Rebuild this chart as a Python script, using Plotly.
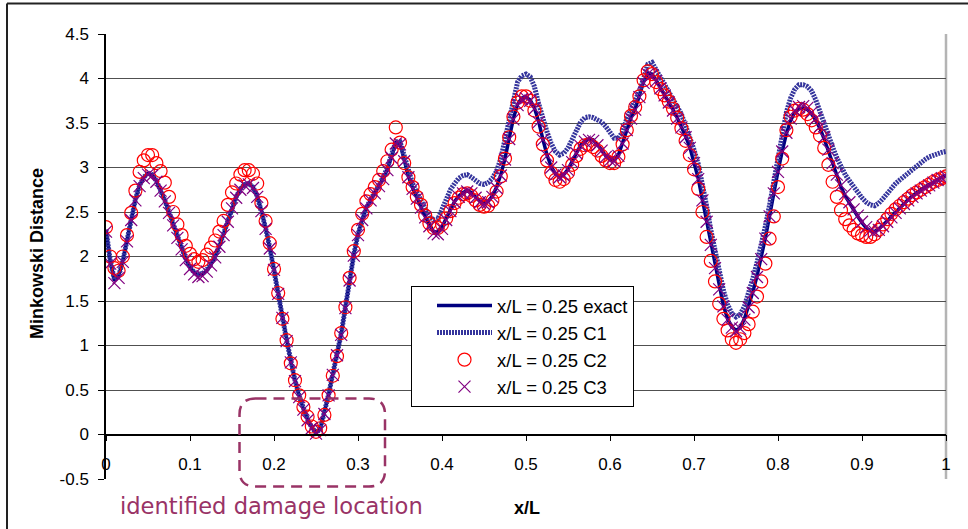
import plotly.graph_objects as go

# ---------------- data ----------------
x_over_L = [
    0.000, 0.005, 0.010, 0.015, 0.020, 0.025, 0.030, 0.035, 0.040, 0.045,
    0.050, 0.055, 0.060, 0.065, 0.070, 0.075, 0.080, 0.085, 0.090, 0.095,
    0.100, 0.105, 0.110, 0.115, 0.120, 0.125, 0.130, 0.135, 0.140, 0.145,
    0.150, 0.155, 0.160, 0.165, 0.170, 0.175, 0.180, 0.185, 0.190, 0.195,
    0.200, 0.205, 0.210, 0.215, 0.220, 0.225, 0.230, 0.235, 0.240, 0.245,
    0.250, 0.255, 0.260, 0.265, 0.270, 0.275, 0.280, 0.285, 0.290, 0.295,
    0.300, 0.305, 0.310, 0.315, 0.320, 0.325, 0.330, 0.335, 0.340, 0.345,
    0.350, 0.355, 0.360, 0.365, 0.370, 0.375, 0.380, 0.385, 0.390, 0.395,
    0.400, 0.405, 0.410, 0.415, 0.420, 0.425, 0.430, 0.435, 0.440, 0.445,
    0.450, 0.455, 0.460, 0.465, 0.470, 0.475, 0.480, 0.485, 0.490, 0.495,
    0.500, 0.505, 0.510, 0.515, 0.520, 0.525, 0.530, 0.535, 0.540, 0.545,
    0.550, 0.555, 0.560, 0.565, 0.570, 0.575, 0.580, 0.585, 0.590, 0.595,
    0.600, 0.605, 0.610, 0.615, 0.620, 0.625, 0.630, 0.635, 0.640, 0.645,
    0.650, 0.655, 0.660, 0.665, 0.670, 0.675, 0.680, 0.685, 0.690, 0.695,
    0.700, 0.705, 0.710, 0.715, 0.720, 0.725, 0.730, 0.735, 0.740, 0.745,
    0.750, 0.755, 0.760, 0.765, 0.770, 0.775, 0.780, 0.785, 0.790, 0.795,
    0.800, 0.805, 0.810, 0.815, 0.820, 0.825, 0.830, 0.835, 0.840, 0.845,
    0.850, 0.855, 0.860, 0.865, 0.870, 0.875, 0.880, 0.885, 0.890, 0.895,
    0.900, 0.905, 0.910, 0.915, 0.920, 0.925, 0.930, 0.935, 0.940, 0.945,
    0.950, 0.955, 0.960, 0.965, 0.970, 0.975, 0.980, 0.985, 0.990, 0.995,
    1.000,
]

exact = [
    2.30, 1.95, 1.73, 1.78, 1.95, 2.18, 2.42, 2.64, 2.80, 2.89,
    2.93, 2.92, 2.85, 2.75, 2.63, 2.50, 2.36, 2.22, 2.09, 1.97,
    1.88, 1.82, 1.79, 1.80, 1.84, 1.91, 2.00, 2.12, 2.25, 2.40,
    2.55, 2.67, 2.76, 2.81, 2.82, 2.78, 2.68, 2.52, 2.32, 2.10,
    1.86, 1.59, 1.32, 1.06, 0.82, 0.61, 0.43, 0.29, 0.17, 0.08,
    0.02, 0.06, 0.24, 0.45, 0.68, 0.90, 1.13, 1.43, 1.74, 2.02,
    2.25, 2.42, 2.55, 2.64, 2.72, 2.80, 2.88, 2.98, 3.12, 3.28,
    3.27, 3.08, 2.90, 2.77, 2.66, 2.56, 2.45, 2.36, 2.28, 2.27,
    2.33, 2.43, 2.53, 2.62, 2.68, 2.72, 2.74, 2.72, 2.67, 2.62,
    2.60, 2.62, 2.68, 2.78, 2.92, 3.10, 3.33, 3.55, 3.71, 3.78,
    3.79, 3.76, 3.67, 3.52, 3.32, 3.14, 3.01, 2.93, 2.90, 2.92,
    2.98, 3.07, 3.17, 3.25, 3.30, 3.32, 3.31, 3.26, 3.20, 3.13,
    3.09, 3.08, 3.14, 3.28, 3.43, 3.56, 3.66, 3.80, 3.96, 4.06,
    4.05, 3.98, 3.90, 3.82, 3.74, 3.65, 3.56, 3.46, 3.35, 3.23,
    3.06, 2.88, 2.64, 2.40, 2.14, 1.88, 1.64, 1.45, 1.30, 1.21,
    1.17, 1.20, 1.30, 1.44, 1.60, 1.78, 1.98, 2.21, 2.46, 2.72,
    2.96, 3.18, 3.38, 3.53, 3.62, 3.66, 3.67, 3.65, 3.60, 3.53,
    3.44, 3.32, 3.18, 3.03, 2.90, 2.78, 2.68, 2.60, 2.52, 2.45,
    2.38, 2.32, 2.29, 2.28, 2.31, 2.35, 2.40, 2.45, 2.50, 2.55,
    2.60, 2.64, 2.68, 2.72, 2.75, 2.78, 2.81, 2.84, 2.87, 2.89,
    2.91,
]

c1 = [
    2.30, 1.96, 1.74, 1.78, 1.95, 2.18, 2.42, 2.64, 2.80, 2.89,
    2.94, 2.92, 2.85, 2.75, 2.63, 2.50, 2.36, 2.22, 2.09, 1.97,
    1.88, 1.82, 1.80, 1.81, 1.85, 1.92, 2.01, 2.12, 2.25, 2.40,
    2.55, 2.67, 2.76, 2.81, 2.82, 2.78, 2.68, 2.52, 2.32, 2.10,
    1.86, 1.59, 1.32, 1.06, 0.82, 0.61, 0.43, 0.29, 0.17, 0.08,
    0.02, 0.06, 0.24, 0.45, 0.68, 0.90, 1.13, 1.43, 1.74, 2.02,
    2.25, 2.42, 2.55, 2.64, 2.72, 2.80, 2.89, 3.00, 3.13, 3.29,
    3.29, 3.12, 2.95, 2.82, 2.72, 2.62, 2.53, 2.45, 2.41, 2.42,
    2.53, 2.66, 2.75, 2.82, 2.88, 2.91, 2.92, 2.89, 2.85, 2.82,
    2.81, 2.83, 2.88, 2.96, 3.10, 3.32, 3.56, 3.80, 3.96, 4.03,
    4.05, 4.02, 3.91, 3.72, 3.54, 3.40, 3.27, 3.18, 3.14, 3.16,
    3.22, 3.32, 3.43, 3.51, 3.56, 3.57, 3.56, 3.54, 3.51, 3.46,
    3.39, 3.33, 3.33, 3.40, 3.55, 3.66, 3.74, 3.86, 4.00, 4.16,
    4.18, 4.10, 4.02, 3.94, 3.86, 3.78, 3.70, 3.60, 3.47, 3.35,
    3.20, 3.04, 2.82, 2.57, 2.30, 2.05, 1.81, 1.62, 1.46, 1.36,
    1.32, 1.35, 1.44, 1.58, 1.75, 1.93, 2.12, 2.34, 2.58, 2.84,
    3.10, 3.38, 3.62, 3.78, 3.88, 3.93, 3.93, 3.91, 3.86, 3.76,
    3.62, 3.48, 3.36, 3.23, 3.11, 3.00, 2.92, 2.85, 2.78, 2.72,
    2.66, 2.61, 2.58, 2.57, 2.60, 2.65, 2.71, 2.77, 2.82, 2.86,
    2.90, 2.94, 2.98, 3.02, 3.06, 3.09, 3.12, 3.14, 3.16, 3.17,
    3.18,
]

c2 = [
    2.33, 2.00, 1.87, 1.84, 2.00, 2.24, 2.49, 2.74, 2.95, 3.08,
    3.14, 3.14, 3.05, 2.96, 2.83, 2.67, 2.50, 2.36, 2.24, 2.12,
    2.03, 1.97, 1.94, 1.96, 2.02, 2.10, 2.18, 2.28, 2.40, 2.58,
    2.72, 2.82, 2.92, 2.97, 2.97, 2.93, 2.82, 2.60, 2.40, 2.15,
    1.86, 1.59, 1.30, 1.06, 0.80, 0.61, 0.44, 0.31, 0.20, 0.09,
    0.03, 0.07, 0.22, 0.44, 0.66, 0.88, 1.14, 1.43, 1.76, 2.06,
    2.30, 2.48, 2.62, 2.70, 2.78, 2.86, 2.96, 3.07, 3.20, 3.45,
    3.28, 3.05, 2.89, 2.78, 2.67, 2.58, 2.46, 2.37, 2.32, 2.32,
    2.36, 2.43, 2.51, 2.60, 2.66, 2.70, 2.71, 2.68, 2.63, 2.58,
    2.56, 2.57, 2.63, 2.73, 2.90, 3.10, 3.34, 3.57, 3.73, 3.80,
    3.80, 3.75, 3.64, 3.46, 3.26, 3.08, 2.94, 2.86, 2.84, 2.87,
    2.94, 3.03, 3.13, 3.21, 3.25, 3.26, 3.23, 3.19, 3.13, 3.08,
    3.05, 3.05, 3.12, 3.26, 3.42, 3.58, 3.68, 3.80, 3.98, 4.08,
    4.05, 3.96, 3.88, 3.81, 3.74, 3.66, 3.56, 3.44, 3.30, 3.14,
    2.98, 2.76, 2.50, 2.22, 1.95, 1.72, 1.47, 1.30, 1.17, 1.07,
    1.03, 1.07, 1.14, 1.24, 1.38, 1.55, 1.72, 1.92, 2.20, 2.45,
    2.78, 3.10, 3.42, 3.57, 3.64, 3.66, 3.65, 3.60, 3.53, 3.45,
    3.36, 3.22, 3.03, 2.84, 2.67, 2.52, 2.42, 2.35, 2.30, 2.26,
    2.24, 2.22, 2.22, 2.25, 2.30, 2.36, 2.42, 2.48, 2.53, 2.57,
    2.61, 2.65, 2.69, 2.72, 2.75, 2.78, 2.81, 2.84, 2.86, 2.88,
    2.90,
]

c3 = [
    2.28, 1.92, 1.70, 1.76, 1.94, 2.17, 2.41, 2.63, 2.79, 2.88,
    2.92, 2.91, 2.84, 2.74, 2.62, 2.49, 2.35, 2.21, 2.08, 1.96,
    1.86, 1.80, 1.77, 1.78, 1.83, 1.90, 1.99, 2.11, 2.24, 2.39,
    2.54, 2.66, 2.75, 2.80, 2.81, 2.77, 2.67, 2.51, 2.31, 2.09,
    1.85, 1.58, 1.31, 1.05, 0.81, 0.60, 0.42, 0.28, 0.16, 0.07,
    0.01, 0.05, 0.23, 0.44, 0.67, 0.89, 1.12, 1.42, 1.73, 2.01,
    2.24, 2.41, 2.54, 2.63, 2.71, 2.79, 2.87, 2.97, 3.11, 3.27,
    3.26, 3.07, 2.89, 2.76, 2.65, 2.55, 2.44, 2.34, 2.26, 2.25,
    2.31, 2.41, 2.51, 2.61, 2.67, 2.71, 2.73, 2.71, 2.66, 2.61,
    2.59, 2.61, 2.67, 2.77, 2.91, 3.09, 3.32, 3.54, 3.70, 3.77,
    3.78, 3.75, 3.66, 3.51, 3.31, 3.13, 3.00, 2.92, 2.89, 2.91,
    2.97, 3.06, 3.16, 3.24, 3.29, 3.31, 3.30, 3.25, 3.19, 3.12,
    3.08, 3.07, 3.13, 3.27, 3.42, 3.55, 3.65, 3.79, 3.95, 4.05,
    4.04, 3.97, 3.89, 3.81, 3.73, 3.64, 3.55, 3.45, 3.34, 3.22,
    3.05, 2.87, 2.63, 2.39, 2.13, 1.87, 1.63, 1.44, 1.29, 1.20,
    1.16, 1.19, 1.29, 1.43, 1.59, 1.77, 1.97, 2.20, 2.45, 2.71,
    2.95, 3.18, 3.39, 3.55, 3.64, 3.68, 3.69, 3.67, 3.62, 3.55,
    3.46, 3.34, 3.20, 3.05, 2.92, 2.80, 2.70, 2.61, 2.53, 2.46,
    2.39, 2.33, 2.29, 2.28, 2.30, 2.34, 2.39, 2.44, 2.49, 2.54,
    2.59, 2.63, 2.67, 2.71, 2.74, 2.77, 2.80, 2.83, 2.86, 2.88,
    2.90,
]

series_names = ["x/L = 0.25 exact", "x/L = 0.25 C1", "x/L = 0.25 C2", "x/L = 0.25 C3"]

x_tick_vals = [0, 0.1, 0.2, 0.3, 0.4, 0.5, 0.6, 0.7, 0.8, 0.9, 1]
x_tick_text = ["0", "0.1", "0.2", "0.3", "0.4", "0.5", "0.6", "0.7", "0.8", "0.9", "1"]
y_tick_vals = [-0.5, 0, 0.5, 1, 1.5, 2, 2.5, 3, 3.5, 4, 4.5]
y_tick_text = ["-0.5", "0", "0.5", "1", "1.5", "2", "2.5", "3", "3.5", "4", "4.5"]

annotation_text = "identified damage location"
x_title = "x/L"
y_title = "Minkowski Distance"

# ---------------- figure ----------------
W, H = 968, 529
ML, MR, MT, MB = 106, 22, 34, 50
PW, PH = W - ML - MR, H - MT - MB


def px(xp):
    return (xp - ML) / PW


def py(yp):
    return (H - MB - yp) / PH


FONT = "Liberation Sans, Arial, sans-serif"

fig = go.Figure()
fig.add_trace(go.Scatter(
    x=x_over_L, y=exact, mode="lines", name=series_names[0],
    line=dict(color="#000080", width=3.5),
))
fig.add_trace(go.Scatter(
    x=x_over_L, y=c1, mode="lines", name=series_names[1],
    line=dict(color="#34349c", width=5, dash="2px,1px"),
))
fig.add_trace(go.Scatter(
    x=x_over_L, y=c2, mode="markers", name=series_names[2],
    marker=dict(symbol="circle-open", size=13, color="#ff0000",
                line=dict(width=1.2, color="#ff0000")),
))
fig.add_trace(go.Scatter(
    x=x_over_L, y=c3, mode="markers", name=series_names[3],
    marker=dict(symbol="x-thin-open", size=12, color="#800080",
                line=dict(width=1.2, color="#800080")),
))

# rounded dashed box around the damage location
L, R, T, B, r = 239.5, 385.0, 398.5, 486.5, 16
path = (
    f"M {px(L + r)},{py(T)} L {px(R - r)},{py(T)} Q {px(R)},{py(T)} {px(R)},{py(T + r)} "
    f"L {px(R)},{py(B - r)} Q {px(R)},{py(B)} {px(R - r)},{py(B)} "
    f"L {px(L + r)},{py(B)} Q {px(L)},{py(B)} {px(L)},{py(B - r)} "
    f"L {px(L)},{py(T + r)} Q {px(L)},{py(T)} {px(L + r)},{py(T)} Z"
)

shapes = [
    dict(type="path", path=path, xref="paper", yref="paper",
         line=dict(color="#993366", width=2.5, dash="11px,7px"), layer="above"),
    # plot-area right border
    dict(type="line", xref="paper", yref="paper", x0=1, x1=1, y0=0, y1=1,
         line=dict(color="#b4b4b4", width=2.5), layer="below"),
    # chart outer border (left & top visible)
    dict(type="line", xref="paper", yref="paper", x0=px(7), x1=px(7), y0=py(3.5), y1=py(540),
         line=dict(color="#222222", width=2)),
    dict(type="line", xref="paper", yref="paper", x0=px(7), x1=px(980), y0=py(3.5), y1=py(3.5),
         line=dict(color="#222222", width=2)),
]

annotations = [
    dict(text=f"<b>{y_title}</b>", xref="paper", yref="paper", x=px(37), y=py(254),
         xanchor="center", yanchor="middle",
         textangle=-90, showarrow=False, font=dict(family=FONT, size=18, color="black")),
    dict(text=f"<b>{x_title}</b>", xref="paper", yref="paper", x=px(527), y=py(508),
         xanchor="center", yanchor="middle",
         showarrow=False, font=dict(family=FONT, size=18, color="black")),
    dict(text=annotation_text, xref="paper", yref="paper", x=px(271.5), y=py(506),
         xanchor="center", yanchor="middle",
         showarrow=False, font=dict(family="DejaVu Sans, sans-serif", size=22.6, color="#993366")),
]

fig.update_layout(
    width=W, height=H,
    margin=dict(l=ML, r=MR, t=MT, b=MB, pad=0),
    paper_bgcolor="white", plot_bgcolor="white",
    font=dict(family=FONT, size=17, color="black"),
    showlegend=True,
    legend=dict(
        x=px(411), y=py(286), xanchor="left", yanchor="top",
        bgcolor="white", bordercolor="black", borderwidth=1,
        font=dict(family=FONT, size=18.5, color="black"),
        tracegroupgap=5, itemwidth=55, indentation=20,
    ),
    shapes=shapes,
    annotations=annotations,
    xaxis=dict(
        range=[0, 1], tickvals=x_tick_vals, ticktext=x_tick_text,
        showgrid=False, zeroline=False,
        showline=True, linecolor="black", linewidth=1.5,
        ticks="outside", ticklen=6, tickcolor="black", tickwidth=1,
        anchor="free", position=0.1,
        tickfont=dict(family=FONT, size=17, color="black"),
        ticklabelstandoff=8,
    ),
    yaxis=dict(
        range=[-0.5, 4.5], tickvals=y_tick_vals, ticktext=y_tick_text,
        showgrid=True, gridcolor="#505050", gridwidth=1, zeroline=False,
        showline=True, linecolor="black", linewidth=1.5,
        ticks="outside", ticklen=6, tickcolor="black", tickwidth=1,
        tickfont=dict(family=FONT, size=17, color="black"),
        ticklabelstandoff=6,
    ),
)

fig.write_html(
    "out.html",
    config={"displayModeBar": False},
    post_script="document.body.style.margin='0px';",
)
